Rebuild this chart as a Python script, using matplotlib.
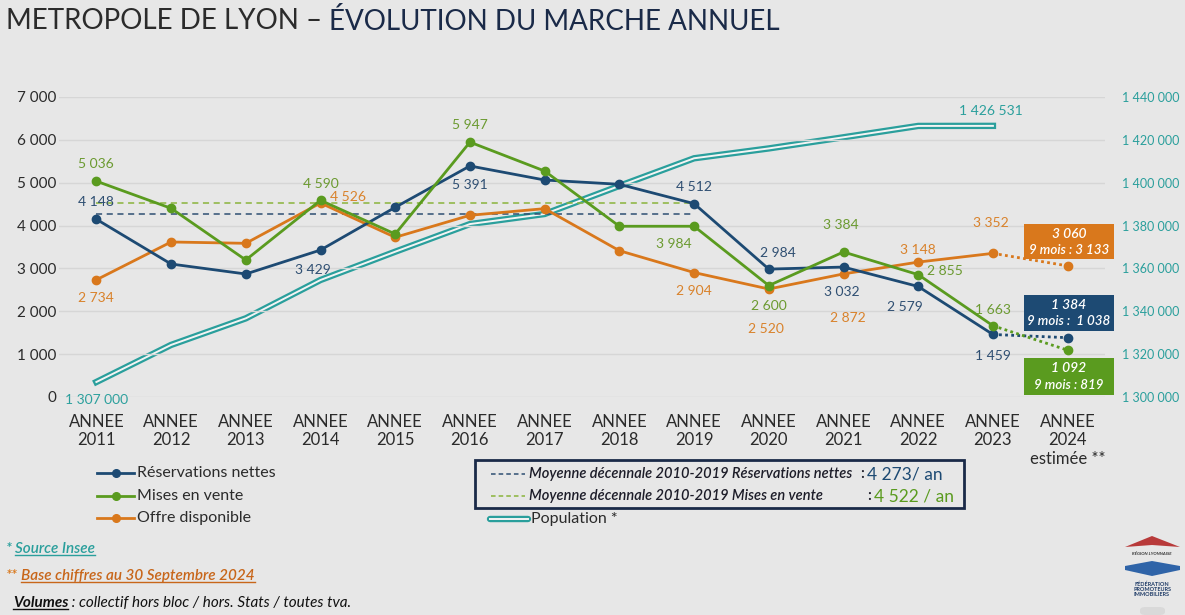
import numpy as np
import matplotlib
matplotlib.use("Agg")
import matplotlib.pyplot as plt
from matplotlib.lines import Line2D
from matplotlib.patches import Rectangle, Polygon, FancyBboxPatch
from matplotlib.ticker import FuncFormatter

plt.rcParams['font.family'] = ['Lato', 'DejaVu Sans']

# --- données ---
years = ['2011', '2012', '2013', '2014', '2015', '2016', '2017',
         '2018', '2019', '2020', '2021', '2022', '2023', '2024']
reservations = [4148, 3103, 2870, 3429, 4426, 5391, 5063, 4963, 4512, 2984, 3032, 2579, 1459, 1384]
mises_en_vente = [5036, 4403, 3197, 4590, 3803, 5947, 5273, 3984, 3984, 2600, 3384, 2855, 1663, 1092]
offre = [2734, 3617, 3586, 4526, 3726, 4240, 4395, 3414, 2904, 2520, 2872, 3148, 3352, 3060]
population = [1307000, 1324300, 1336700, 1354600, 1367800, 1380700, 1385400,
              1398500, 1411400, 1416000, 1421200, 1426500, 1426531]
moy_resa = 4273
moy_mev = 4522
neuf_mois_resa = 1038
neuf_mois_mev = 819
neuf_mois_offre = 3133

# étiquettes : année -> décalage (px) du texte par rapport au point
lab_resa = {0: (0, 17), 3: (-8, -20), 5: (0, -19), 8: (0, 17), 9: (9, 16),
            10: (-2, -25), 11: (-13, -21), 12: (0, -22)}
lab_mev = {0: (0, 17), 3: (0, 16), 5: (0, 17), 8: (-20, -18), 9: (0, -20),
           10: (-3, 27), 11: (27, 4), 12: (0, 16)}
lab_offre = {0: (0, -18), 3: (28, 6), 8: (0, -18), 9: (-3, -40), 10: (4, -44),
             11: (0, 12), 12: (-2, 30)}
lab_pop = {0: (0, -18), 12: (-2, 15)}

BG = '#e7e7e7'
BLUE = '#1d4a73'
GREEN = '#5a9b1f'
ORANGE = '#d9781c'
TEAL = '#2a9f9c'
BLUE_T = '#2f4f72'
GREEN_T = '#6b9a30'
ORANGE_T = '#d9822b'
DARK = '#2b2b2b'
NAVY = '#1a2a48'

W, H = 1185, 615
fx = lambda x: x / W
fy = lambda y: 1 - y / H

fig = plt.figure(figsize=(W / 100, H / 100), dpi=100, facecolor=BG)
ax = fig.add_axes([fx(59), fy(397), 1046 / W, 300 / H])
ax2 = ax.twinx()
ax.set_zorder(ax2.get_zorder() + 1)
ax.patch.set_visible(False)
ax2.set_facecolor(BG)

x = np.arange(len(years))
ax.set_xlim(-0.5, 13.5)
ax.set_ylim(0, 7000)
ax2.set_ylim(1300000, 1440000)
ax.set_yticks(range(0, 7001, 1000))
ax2.set_yticks(range(1300000, 1440001, 20000))
sp = lambda v, p: f"{int(v):,}".replace(',', ' ')
ax.yaxis.set_major_formatter(FuncFormatter(sp))
ax2.yaxis.set_major_formatter(FuncFormatter(sp))
ax.grid(axis='y', color='#d6d6d6', lw=1)
ax.set_axisbelow(True)
for a in (ax, ax2):
    for s in a.spines.values():
        s.set_visible(False)
ax.tick_params(axis='y', length=0, pad=2, labelsize=11, labelcolor=DARK)
ax2.tick_params(axis='y', length=0, pad=12, labelsize=9, labelcolor=TEAL)
xlabels = ['ANNEE\n' + y for y in years]
xlabels[-1] = 'ANNEE\n2024\nestimée **'
ax.set_xticks(x)
ax.set_xticklabels(xlabels, fontsize=12, color=DARK, linespacing=1.2, va='top')
ax.tick_params(axis='x', length=0, pad=12)

# population (double trait)
ax2.plot(x[:13], population, color=TEAL, lw=4.6, solid_joinstyle='miter', zorder=2)
ax2.plot(x[:13], population, color='#f4f4f4', lw=1.4, solid_joinstyle='miter', zorder=3)

# moyennes décennales
ax.plot([x[0], x[8]], [moy_resa, moy_resa], color=BLUE_T, lw=1.1, ls=(0, (4, 3)), zorder=2)
ax.plot([x[0], x[8]], [moy_mev, moy_mev], color='#8ab43c', lw=1.1, ls=(0, (4, 3)), zorder=2)

for vals, col in ((offre, ORANGE), (reservations, BLUE), (mises_en_vente, GREEN)):
    ax.plot(x[:13], vals[:13], color=col, lw=2, marker='o', ms=6, zorder=3)
    ax.plot(x[12:], vals[12:], color=col, lw=2, ls=(0, (1, 1.2)), marker='o', ms=6,
            markevery=[1], zorder=3)


def put_labels(a, vals, offs, col):
    for i, (dx, dy) in offs.items():
        a.annotate(f"{vals[i]:,}".replace(',', ' '), (x[i], vals[i]), xytext=(dx, dy),
                   textcoords='offset pixels', ha='center', va='center',
                   fontsize=10, color=col, zorder=5)


put_labels(ax, reservations, lab_resa, BLUE_T)
put_labels(ax, mises_en_vente, lab_mev, GREEN_T)
put_labels(ax, offre, lab_offre, ORANGE_T)
put_labels(ax2, population, lab_pop, TEAL)

fig.canvas.draw()
rend = fig.canvas.get_renderer()


def underline(t, col, lw=1.0, off=1.5):
    bb = t.get_window_extent(rend)
    y = bb.y0 + off
    fig.add_artist(Line2D([bb.x0 / W, bb.x1 / W], [y / H, y / H], color=col, lw=lw))


# encadrés 2024
boxes = [(ORANGE, offre[13], neuf_mois_offre, 224, 259, ' : '),
         (BLUE, reservations[13], neuf_mois_resa, 295, 331, ' :  '),
         (GREEN, mises_en_vente[13], neuf_mois_mev, 358, 395, ' : ')]
for col, v, nm, top, bot, sep in boxes:
    fig.add_artist(Rectangle((fx(1024), fy(bot)), 90 / W, (bot - top) / H,
                             facecolor=col, edgecolor='none', zorder=6))
    yc = (top + bot) / 2
    t = fig.text(fx(1069), fy(yc - 8), f"{v:,}".replace(',', ' '), ha='center', va='center',
                 fontsize=10, color='white', style='italic', fontweight='semibold', zorder=7)
    fig.text(fx(1069), fy(yc + 8.5), f"9 mois{sep}{nm:,}".replace(',', ' '), ha='center',
             va='center', fontsize=9.6, color='white', style='italic', fontweight='semibold',
             zorder=7)
    fig.canvas.draw()
    underline(t, 'white', lw=0.9, off=1)

# titre
t1 = fig.text(fx(6), fy(21), "METROPOLE DE LYON – ", fontsize=20, color=DARK,
              va='center', ha='left')
fig.canvas.draw()
bb = t1.get_window_extent(rend)
fig.text(bb.x1 / W, fy(21), "ÉVOLUTION DU MARCHE ANNUEL", fontsize=20, color=NAVY,
         va='center', ha='left')

# légende gauche
for lab, col, yy in (("Réservations nettes", BLUE, 473), ("Mises en vente", GREEN, 496),
                     ("Offre disponible", ORANGE, 518)):
    fig.add_artist(Line2D([fx(97), fx(134)], [fy(yy), fy(yy)], color=col, lw=2))
    fig.add_artist(Line2D([fx(115.5)], [fy(yy)], color=col, marker='o', ms=5.5))
    fig.text(fx(137), fy(yy), lab, fontsize=11.5, color=DARK, va='center', ha='left')

# légende encadrée (moyennes)
fig.add_artist(Rectangle((fx(475), fy(508)), 489 / W, 48 / H, facecolor='none',
                         edgecolor=NAVY, lw=2))
rows = [("Moyenne décennale 2010-2019 Réservations nettes", BLUE_T, 474, 860, "4 273/ an", BLUE),
        ("Moyenne décennale 2010-2019 Mises en vente", '#8ab43c', 496, 867, "4 522 / an", GREEN)]
for lab, lcol, yy, xc, val, vcol in rows:
    fig.add_artist(Line2D([fx(491), fx(525)], [fy(yy), fy(yy)], color=lcol, lw=1.1,
                          ls=(0, (3, 2))))
    fig.text(fx(529), fy(yy), lab, fontsize=10.5, style='italic', fontweight='semibold',
             color='#1c1c28', va='center', ha='left')
    tc = fig.text(fx(xc), fy(yy), ":", fontsize=11, fontweight='semibold', color='#1c1c28',
                  va='center', ha='left')
    fig.canvas.draw()
    bb = tc.get_window_extent(rend)
    fig.text(bb.x1 / W + 3 / W, fy(yy), val, fontsize=12.5, color=vcol, va='center', ha='left')

# légende population
fig.add_artist(Line2D([fx(490), fx(528)], [fy(519), fy(519)], color=TEAL, lw=4.6,
                      solid_capstyle='round'))
fig.add_artist(Line2D([fx(490), fx(528)], [fy(519), fy(519)], color='#f4f4f4', lw=1.4))
fig.text(fx(531), fy(519), "Population *", fontsize=11.5, color=DARK, va='center', ha='left')

# notes
fig.text(fx(6), fy(549), "*", fontsize=11, color=TEAL, style='italic', fontweight='semibold',
         va='center')
t = fig.text(fx(15), fy(549), "Source Insee", fontsize=11, color=TEAL, style='italic',
             fontweight='semibold', va='center')
fig.canvas.draw()
underline(t, TEAL, lw=1)
fig.text(fx(6), fy(576), "**", fontsize=11, color=ORANGE, style='italic', fontweight='semibold',
         va='center')
t = fig.text(fx(21), fy(576), "Base chiffres au 30 Septembre 2024", fontsize=11, color='#c8661a',
             style='italic', fontweight='semibold', va='center')
fig.canvas.draw()
underline(t, '#c8661a', lw=1)
t = fig.text(fx(13), fy(603), "Volumes", fontsize=11, color='#111111', style='italic',
             fontweight='bold', va='center')
fig.canvas.draw()
underline(t, '#111111', lw=1)
bb = t.get_window_extent(rend)
fig.text(bb.x1 / W, fy(603), " : collectif hors bloc / hors. Stats / toutes tva.", fontsize=11,
         color='#111111', style='italic', va='center')

# logo
fig.add_artist(Polygon([(fx(1125), fy(547)), (fx(1152), fy(536)), (fx(1180), fy(547)),
                        (fx(1152), fy(545))], closed=True, facecolor='#b83a3a', edgecolor='none'))
fig.text(fx(1152), fy(554), "RÉGION LYONNAISE", fontsize=3.2, color='#333333', style='italic',
         fontweight='bold', ha='center', va='center')
fig.add_artist(Polygon([(fx(1125), fy(566)), (fx(1152), fy(561)), (fx(1180), fy(566)),
                        (fx(1180), fy(570)), (fx(1152), fy(576)), (fx(1125), fy(570))],
                       closed=True, facecolor='#2f64a8', edgecolor='none'))
fig.text(fx(1152), fy(589.5), "FÉDÉRATION\nPROMOTEURS\nIMMOBILIERS", fontsize=4, color='#1d3a66',
         fontweight='bold', ha='center', va='center', linespacing=1.1)
fig.add_artist(FancyBboxPatch((fx(1140), fy(615)), 25 / W, 8 / H,
                              boxstyle='round,pad=0,rounding_size=0.005',
                              facecolor='#d9d9d9', edgecolor='none'))

fig.savefig('out.png', dpi=100, facecolor=BG)
